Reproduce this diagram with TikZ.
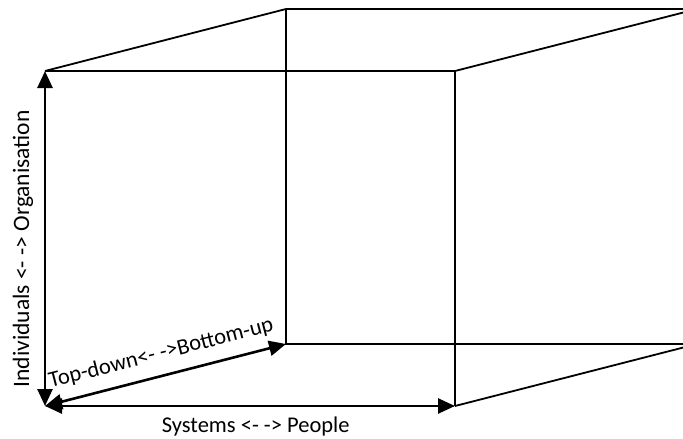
\documentclass[tikz,border=0pt]{standalone}
\usepackage{fontspec}
\setmainfont{Carlito}
\usetikzlibrary{arrows.meta}
\begin{document}
\begin{tikzpicture}[x=1pt,y=-1pt,
  edge/.style={line width=1.8pt},
  axis/.style={line width=2.6pt,{Triangle[length=17pt,width=15pt]}-{Triangle[length=17pt,width=15pt]}},
  lbl/.style={font=\fontsize{22.5}{26}\selectfont, inner sep=0pt}]
\useasboundingbox (0,0) rectangle (683,439);
\clip (0,0) rectangle (683,439);
% front face corners
\coordinate (FTL) at (45,71);
\coordinate (FTR) at (455,71);
\coordinate (FBR) at (455,406);
\coordinate (FBL) at (45,406);
% back face corners (right side runs past the frame)
\coordinate (BTL) at (286,9);
\coordinate (BTR) at (697,9);
\coordinate (BBR) at (697,344);
\coordinate (BBL) at (286,344);
% cube edges
\draw[edge] (FTL) -- (FTR) -- (FBR);
\draw[edge] (FTL) -- (BTL) -- (BTR);
\draw[edge] (FTR) -- (BTR);
\draw[edge] (BTL) -- (BBL) -- (BBR);
\draw[edge] (FBR) -- (BBR);
% axes with labels
\draw[axis] (FTL) -- (FBL)
  node[lbl, pos=0.531, rotate=90, anchor=base, yshift=16pt, font=\fontsize{23.5}{27}\selectfont] {Individuals <- -> Organisation};
\draw[axis] (FBL) -- (FBR)
  node[lbl, pos=0.514, anchor=base, yshift=-26pt] {Systems <- -> People};
\draw[axis] (FBL) -- (BBL)
  node[lbl, pos=0.505, sloped, anchor=base, yshift=16pt] {Top-down<- ->Bottom-up};
\end{tikzpicture}
\end{document}
